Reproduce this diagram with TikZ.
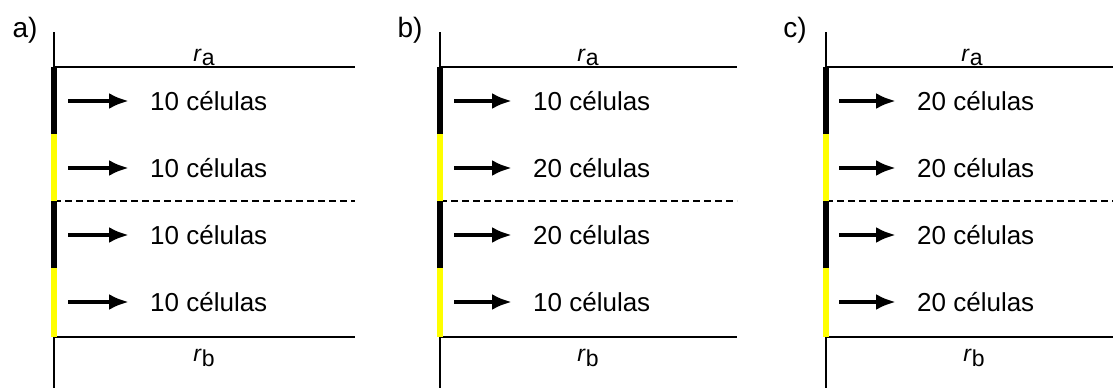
\documentclass[tikz,border=0pt]{standalone}
\usepackage{fontspec}
\setmainfont{Liberation Sans}
\usetikzlibrary{arrows.meta}
\usepackage{xcolor}
\definecolor{amarelo}{rgb}{1,1,0}

\begin{document}
\begin{tikzpicture}[x=1pt,y=-1pt,cell/.style={anchor=west,inner sep=0pt,font=\fontsize{26}{30}\selectfont},arr/.style={line width=4.5pt,-{Latex[length=20pt,width=16pt]},shorten >=21pt},lbl/.style={anchor=base,inner sep=0pt,font=\fontsize{28}{32}\selectfont},rad/.style={anchor=base,inner sep=0pt,font=\fontsize{23}{26}\selectfont}]
\useasboundingbox (0,0) rectangle (1113,388);
% a)
\draw [line width=2pt] (54,32)-- (54,388);
\draw [line width=2pt] (54,67)-- (355,67);
\draw [line width=1.6pt,dash pattern=on 7pt off 4pt] (54,201)-- (355,201);
\draw [line width=2pt] (54,337)-- (355,337);
\draw [line width=5.5pt] (54,67)-- (54,134);
\draw [line width=5.5pt,color=amarelo] (54,134)-- (54,201);
\draw [line width=5.5pt] (54,201)-- (54,268);
\draw [line width=5.5pt,color=amarelo] (54,268)-- (54,337);
\node[lbl] (la) at (25,37) {a)};
\node[rad] (raA) at (204,61) {\textit{r}\raisebox{-4pt}{a}};
\node[rad] (rbA) at (204,361) {\textit{r}\raisebox{-5pt}{b}};
\coordinate (sa1) at (68,101);
\coordinate (sa2) at (68,168);
\coordinate (sa3) at (68,235);
\coordinate (sa4) at (68,302);
\node[cell] (ta1) at (150,101) {10 células};
\node[cell] (ta2) at (150,168) {10 células};
\node[cell] (ta3) at (150,235) {10 células};
\node[cell] (ta4) at (150,302) {10 células};
\draw[arr] (sa1) -- (ta1.west);
\draw[arr] (sa2) -- (ta2.west);
\draw[arr] (sa3) -- (ta3.west);
\draw[arr] (sa4) -- (ta4.west);
% b)
\draw [line width=2pt] (440,32)-- (440,388);
\draw [line width=2pt] (440,67)-- (737,67);
\draw [line width=1.6pt,dash pattern=on 7pt off 4pt] (440,201)-- (737,201);
\draw [line width=2pt] (440,337)-- (737,337);
\draw [line width=5.5pt] (440,67)-- (440,134);
\draw [line width=5.5pt,color=amarelo] (440,134)-- (440,201);
\draw [line width=5.5pt] (440,201)-- (440,268);
\draw [line width=5.5pt,color=amarelo] (440,268)-- (440,337);
\node[lbl] (lb) at (410,37) {b)};
\node[rad] (raB) at (588,61) {\textit{r}\raisebox{-4pt}{a}};
\node[rad] (rbB) at (588,361) {\textit{r}\raisebox{-5pt}{b}};
\coordinate (sb1) at (454,101);
\coordinate (sb2) at (454,168);
\coordinate (sb3) at (454,235);
\coordinate (sb4) at (454,302);
\node[cell] (tb1) at (533,101) {10 células};
\node[cell] (tb2) at (533,168) {20 células};
\node[cell] (tb3) at (533,235) {20 células};
\node[cell] (tb4) at (533,302) {10 células};
\draw[arr] (sb1) -- (tb1.west);
\draw[arr] (sb2) -- (tb2.west);
\draw[arr] (sb3) -- (tb3.west);
\draw[arr] (sb4) -- (tb4.west);
% c)
\draw [line width=2pt] (826,32)-- (826,388);
\draw [line width=2pt] (826,67)-- (1113,67);
\draw [line width=1.6pt,dash pattern=on 7pt off 4pt] (826,201)-- (1113,201);
\draw [line width=2pt] (826,337)-- (1113,337);
\draw [line width=5.5pt] (826,67)-- (826,134);
\draw [line width=5.5pt,color=amarelo] (826,134)-- (826,201);
\draw [line width=5.5pt] (826,201)-- (826,268);
\draw [line width=5.5pt,color=amarelo] (826,268)-- (826,337);
\node[lbl] (lc) at (795,37) {c)};
\node[rad] (raC) at (972,61) {\textit{r}\raisebox{-4pt}{a}};
\node[rad] (rbC) at (974,361) {\textit{r}\raisebox{-5pt}{b}};
\coordinate (sc1) at (839,101);
\coordinate (sc2) at (839,168);
\coordinate (sc3) at (839,235);
\coordinate (sc4) at (839,302);
\node[cell] (tc1) at (917,101) {20 células};
\node[cell] (tc2) at (917,168) {20 células};
\node[cell] (tc3) at (917,235) {20 células};
\node[cell] (tc4) at (917,302) {20 células};
\draw[arr] (sc1) -- (tc1.west);
\draw[arr] (sc2) -- (tc2.west);
\draw[arr] (sc3) -- (tc3.west);
\draw[arr] (sc4) -- (tc4.west);
\end{tikzpicture}
\end{document}
